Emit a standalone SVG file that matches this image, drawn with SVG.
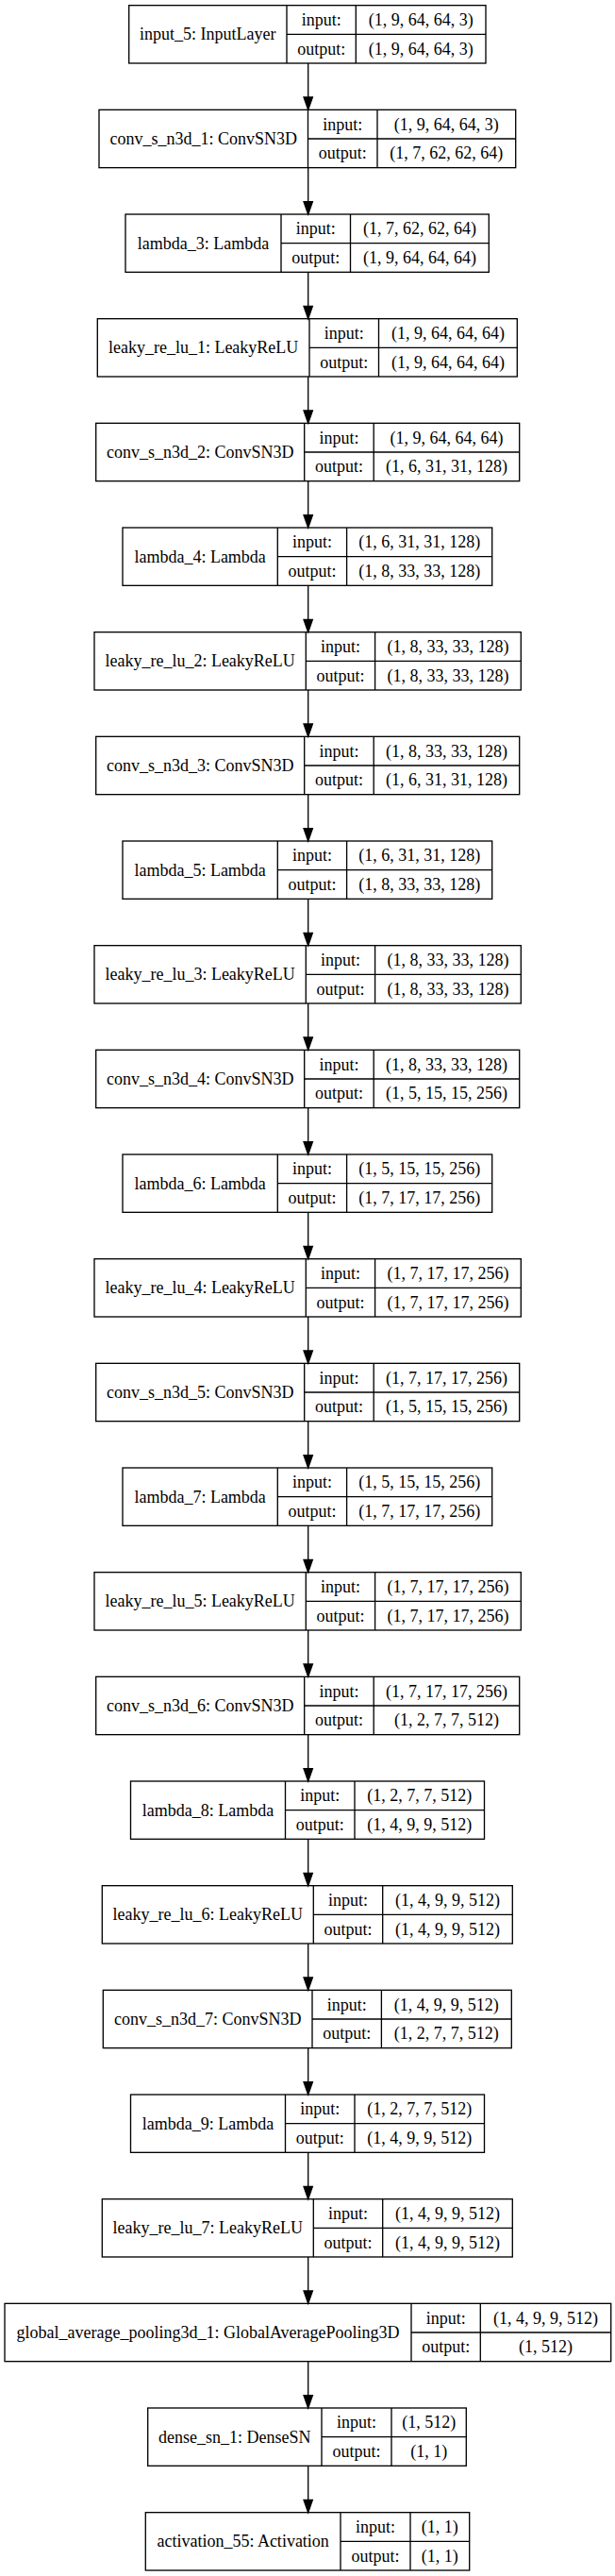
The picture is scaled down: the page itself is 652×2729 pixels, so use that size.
<svg xmlns="http://www.w3.org/2000/svg" width="652" height="2729" viewBox="0 0 652 2729">
<style>
.box{fill:none;stroke:#000;stroke-width:1.33}
text{font-family:"Liberation Serif","Times New Roman",serif;font-size:18px;text-anchor:middle;fill:#000}
.edge{stroke:#000;stroke-width:1.33;fill:none}
.ahp{fill:#000;stroke:#000;stroke-width:1.33}
</style>
<defs>
<marker id="ah" markerUnits="userSpaceOnUse" markerWidth="16" markerHeight="12" refX="0" refY="5" orient="auto" overflow="visible">
<path class="ahp" d="M0,0.33L13.33,5L0,9.67z"/>
</marker>
</defs>
<rect x="0" y="0" width="652" height="2729" fill="#fff"/>
<g id="nodes">
<g id="input_5" transform="translate(0,5.67)">
<rect class="box" x="136.7" y="0" width="378.3" height="61.33"/>
<path class="box" d="M304,0V61.33M377.3,0V61.33M304,30.67H515"/>
<text x="220.35" y="36.7">input_5: InputLayer</text>
<text x="340.65" y="21.3">input:</text><text x="340.65" y="52">output:</text>
<text x="446.15" y="21.3">(1, 9, 64, 64, 3)</text><text x="446.15" y="52">(1, 9, 64, 64, 3)</text>
</g>
<g id="conv_s_n3d_1" transform="translate(0,116.33)">
<rect class="box" x="105" y="0" width="441.7" height="61.33"/>
<path class="box" d="M326.5,0V61.33M400,0V61.33M326.5,30.67H546.7"/>
<text x="215.75" y="36.7">conv_s_n3d_1: ConvSN3D</text>
<text x="363.25" y="21.3">input:</text><text x="363.25" y="52">output:</text>
<text x="473.35" y="21.3">(1, 9, 64, 64, 3)</text><text x="473.35" y="52">(1, 7, 62, 62, 64)</text>
</g>
<g id="lambda_3" transform="translate(0,227)">
<rect class="box" x="133" y="0" width="385.3" height="61.33"/>
<path class="box" d="M298,0V61.33M371.5,0V61.33M298,30.67H518.3"/>
<text x="215.5" y="36.7">lambda_3: Lambda</text>
<text x="334.75" y="21.3">input:</text><text x="334.75" y="52">output:</text>
<text x="444.9" y="21.3">(1, 7, 62, 62, 64)</text><text x="444.9" y="52">(1, 9, 64, 64, 64)</text>
</g>
<g id="leaky_re_lu_1" transform="translate(0,337.67)">
<rect class="box" x="103.3" y="0" width="445" height="61.33"/>
<path class="box" d="M328,0V61.33M401.5,0V61.33M328,30.67H548.3"/>
<text x="215.65" y="36.7">leaky_re_lu_1: LeakyReLU</text>
<text x="364.75" y="21.3">input:</text><text x="364.75" y="52">output:</text>
<text x="474.9" y="21.3">(1, 9, 64, 64, 64)</text><text x="474.9" y="52">(1, 9, 64, 64, 64)</text>
</g>
<g id="conv_s_n3d_2" transform="translate(0,448.33)">
<rect class="box" x="101.7" y="0" width="449" height="61.33"/>
<path class="box" d="M322.7,0V61.33M396.2,0V61.33M322.7,30.67H550.7"/>
<text x="212.2" y="36.7">conv_s_n3d_2: ConvSN3D</text>
<text x="359.45" y="21.3">input:</text><text x="359.45" y="52">output:</text>
<text x="473.45" y="21.3">(1, 9, 64, 64, 64)</text><text x="473.45" y="52">(1, 6, 31, 31, 128)</text>
</g>
<g id="lambda_4" transform="translate(0,559)">
<rect class="box" x="130" y="0" width="391.7" height="61.33"/>
<path class="box" d="M294.3,0V61.33M367.6,0V61.33M294.3,30.67H521.7"/>
<text x="212.15" y="36.7">lambda_4: Lambda</text>
<text x="330.95" y="21.3">input:</text><text x="330.95" y="52">output:</text>
<text x="444.65" y="21.3">(1, 6, 31, 31, 128)</text><text x="444.65" y="52">(1, 8, 33, 33, 128)</text>
</g>
<g id="leaky_re_lu_2" transform="translate(0,669.67)">
<rect class="box" x="100" y="0" width="452.3" height="61.33"/>
<path class="box" d="M324.3,0V61.33M397.6,0V61.33M324.3,30.67H552.3"/>
<text x="212.15" y="36.7">leaky_re_lu_2: LeakyReLU</text>
<text x="360.95" y="21.3">input:</text><text x="360.95" y="52">output:</text>
<text x="474.95" y="21.3">(1, 8, 33, 33, 128)</text><text x="474.95" y="52">(1, 8, 33, 33, 128)</text>
</g>
<g id="conv_s_n3d_3" transform="translate(0,780.33)">
<rect class="box" x="101.7" y="0" width="449" height="61.33"/>
<path class="box" d="M322.7,0V61.33M396.2,0V61.33M322.7,30.67H550.7"/>
<text x="212.2" y="36.7">conv_s_n3d_3: ConvSN3D</text>
<text x="359.45" y="21.3">input:</text><text x="359.45" y="52">output:</text>
<text x="473.45" y="21.3">(1, 8, 33, 33, 128)</text><text x="473.45" y="52">(1, 6, 31, 31, 128)</text>
</g>
<g id="lambda_5" transform="translate(0,891)">
<rect class="box" x="130" y="0" width="391.7" height="61.33"/>
<path class="box" d="M294.3,0V61.33M367.6,0V61.33M294.3,30.67H521.7"/>
<text x="212.15" y="36.7">lambda_5: Lambda</text>
<text x="330.95" y="21.3">input:</text><text x="330.95" y="52">output:</text>
<text x="444.65" y="21.3">(1, 6, 31, 31, 128)</text><text x="444.65" y="52">(1, 8, 33, 33, 128)</text>
</g>
<g id="leaky_re_lu_3" transform="translate(0,1001.67)">
<rect class="box" x="100" y="0" width="452.3" height="61.33"/>
<path class="box" d="M324.3,0V61.33M397.6,0V61.33M324.3,30.67H552.3"/>
<text x="212.15" y="36.7">leaky_re_lu_3: LeakyReLU</text>
<text x="360.95" y="21.3">input:</text><text x="360.95" y="52">output:</text>
<text x="474.95" y="21.3">(1, 8, 33, 33, 128)</text><text x="474.95" y="52">(1, 8, 33, 33, 128)</text>
</g>
<g id="conv_s_n3d_4" transform="translate(0,1112.33)">
<rect class="box" x="101.7" y="0" width="449" height="61.33"/>
<path class="box" d="M322.7,0V61.33M396.2,0V61.33M322.7,30.67H550.7"/>
<text x="212.2" y="36.7">conv_s_n3d_4: ConvSN3D</text>
<text x="359.45" y="21.3">input:</text><text x="359.45" y="52">output:</text>
<text x="473.45" y="21.3">(1, 8, 33, 33, 128)</text><text x="473.45" y="52">(1, 5, 15, 15, 256)</text>
</g>
<g id="lambda_6" transform="translate(0,1223)">
<rect class="box" x="130" y="0" width="391.7" height="61.33"/>
<path class="box" d="M294.3,0V61.33M367.6,0V61.33M294.3,30.67H521.7"/>
<text x="212.15" y="36.7">lambda_6: Lambda</text>
<text x="330.95" y="21.3">input:</text><text x="330.95" y="52">output:</text>
<text x="444.65" y="21.3">(1, 5, 15, 15, 256)</text><text x="444.65" y="52">(1, 7, 17, 17, 256)</text>
</g>
<g id="leaky_re_lu_4" transform="translate(0,1333.67)">
<rect class="box" x="100" y="0" width="452.3" height="61.33"/>
<path class="box" d="M324.3,0V61.33M397.6,0V61.33M324.3,30.67H552.3"/>
<text x="212.15" y="36.7">leaky_re_lu_4: LeakyReLU</text>
<text x="360.95" y="21.3">input:</text><text x="360.95" y="52">output:</text>
<text x="474.95" y="21.3">(1, 7, 17, 17, 256)</text><text x="474.95" y="52">(1, 7, 17, 17, 256)</text>
</g>
<g id="conv_s_n3d_5" transform="translate(0,1444.33)">
<rect class="box" x="101.7" y="0" width="449" height="61.33"/>
<path class="box" d="M322.7,0V61.33M396.2,0V61.33M322.7,30.67H550.7"/>
<text x="212.2" y="36.7">conv_s_n3d_5: ConvSN3D</text>
<text x="359.45" y="21.3">input:</text><text x="359.45" y="52">output:</text>
<text x="473.45" y="21.3">(1, 7, 17, 17, 256)</text><text x="473.45" y="52">(1, 5, 15, 15, 256)</text>
</g>
<g id="lambda_7" transform="translate(0,1555)">
<rect class="box" x="130" y="0" width="391.7" height="61.33"/>
<path class="box" d="M294.3,0V61.33M367.6,0V61.33M294.3,30.67H521.7"/>
<text x="212.15" y="36.7">lambda_7: Lambda</text>
<text x="330.95" y="21.3">input:</text><text x="330.95" y="52">output:</text>
<text x="444.65" y="21.3">(1, 5, 15, 15, 256)</text><text x="444.65" y="52">(1, 7, 17, 17, 256)</text>
</g>
<g id="leaky_re_lu_5" transform="translate(0,1665.67)">
<rect class="box" x="100" y="0" width="452.3" height="61.33"/>
<path class="box" d="M324.3,0V61.33M397.6,0V61.33M324.3,30.67H552.3"/>
<text x="212.15" y="36.7">leaky_re_lu_5: LeakyReLU</text>
<text x="360.95" y="21.3">input:</text><text x="360.95" y="52">output:</text>
<text x="474.95" y="21.3">(1, 7, 17, 17, 256)</text><text x="474.95" y="52">(1, 7, 17, 17, 256)</text>
</g>
<g id="conv_s_n3d_6" transform="translate(0,1776.33)">
<rect class="box" x="101.7" y="0" width="449" height="61.33"/>
<path class="box" d="M322.7,0V61.33M396.2,0V61.33M322.7,30.67H550.7"/>
<text x="212.2" y="36.7">conv_s_n3d_6: ConvSN3D</text>
<text x="359.45" y="21.3">input:</text><text x="359.45" y="52">output:</text>
<text x="473.45" y="21.3">(1, 7, 17, 17, 256)</text><text x="473.45" y="52">(1, 2, 7, 7, 512)</text>
</g>
<g id="lambda_8" transform="translate(0,1887)">
<rect class="box" x="138.5" y="0" width="375" height="61.33"/>
<path class="box" d="M302.5,0V61.33M376,0V61.33M302.5,30.67H513.5"/>
<text x="220.5" y="36.7">lambda_8: Lambda</text>
<text x="339.25" y="21.3">input:</text><text x="339.25" y="52">output:</text>
<text x="444.75" y="21.3">(1, 2, 7, 7, 512)</text><text x="444.75" y="52">(1, 4, 9, 9, 512)</text>
</g>
<g id="leaky_re_lu_6" transform="translate(0,1997.67)">
<rect class="box" x="108.3" y="0" width="435" height="61.33"/>
<path class="box" d="M332.3,0V61.33M405.7,0V61.33M332.3,30.67H543.3"/>
<text x="220.3" y="36.7">leaky_re_lu_6: LeakyReLU</text>
<text x="369" y="21.3">input:</text><text x="369" y="52">output:</text>
<text x="474.5" y="21.3">(1, 4, 9, 9, 512)</text><text x="474.5" y="52">(1, 4, 9, 9, 512)</text>
</g>
<g id="conv_s_n3d_7" transform="translate(0,2108.33)">
<rect class="box" x="109.3" y="0" width="433" height="61.33"/>
<path class="box" d="M331,0V61.33M404.4,0V61.33M331,30.67H542.3"/>
<text x="220.15" y="36.7">conv_s_n3d_7: ConvSN3D</text>
<text x="367.7" y="21.3">input:</text><text x="367.7" y="52">output:</text>
<text x="473.35" y="21.3">(1, 4, 9, 9, 512)</text><text x="473.35" y="52">(1, 2, 7, 7, 512)</text>
</g>
<g id="lambda_9" transform="translate(0,2219)">
<rect class="box" x="138.5" y="0" width="375" height="61.33"/>
<path class="box" d="M302.5,0V61.33M376,0V61.33M302.5,30.67H513.5"/>
<text x="220.5" y="36.7">lambda_9: Lambda</text>
<text x="339.25" y="21.3">input:</text><text x="339.25" y="52">output:</text>
<text x="444.75" y="21.3">(1, 2, 7, 7, 512)</text><text x="444.75" y="52">(1, 4, 9, 9, 512)</text>
</g>
<g id="leaky_re_lu_7" transform="translate(0,2329.67)">
<rect class="box" x="108.3" y="0" width="435" height="61.33"/>
<path class="box" d="M332.3,0V61.33M405.7,0V61.33M332.3,30.67H543.3"/>
<text x="220.3" y="36.7">leaky_re_lu_7: LeakyReLU</text>
<text x="369" y="21.3">input:</text><text x="369" y="52">output:</text>
<text x="474.5" y="21.3">(1, 4, 9, 9, 512)</text><text x="474.5" y="52">(1, 4, 9, 9, 512)</text>
</g>
<g id="global_average_pooling3d_1" transform="translate(0,2440.33)">
<rect class="box" x="5" y="0" width="642.7" height="61.33"/>
<path class="box" d="M436,0V61.33M509.3,0V61.33M436,30.67H647.7"/>
<text x="220.5" y="36.7">global_average_pooling3d_1: GlobalAveragePooling3D</text>
<text x="472.65" y="21.3">input:</text><text x="472.65" y="52">output:</text>
<text x="578.5" y="21.3">(1, 4, 9, 9, 512)</text><text x="578.5" y="52">(1, 512)</text>
</g>
<g id="dense_sn_1" transform="translate(0,2551)">
<rect class="box" x="156.7" y="0" width="337.6" height="61.33"/>
<path class="box" d="M341,0V61.33M415,0V61.33M341,30.67H494.3"/>
<text x="248.85" y="36.7">dense_sn_1: DenseSN</text>
<text x="378" y="21.3">input:</text><text x="378" y="52">output:</text>
<text x="454.65" y="21.3">(1, 512)</text><text x="454.65" y="52">(1, 1)</text>
</g>
<g id="activation_55" transform="translate(0,2661.67)">
<rect class="box" x="154.3" y="0" width="343.4" height="61.33"/>
<path class="box" d="M361,0V61.33M435,0V61.33M361,30.67H497.7"/>
<text x="257.65" y="36.7">activation_55: Activation</text>
<text x="398" y="21.3">input:</text><text x="398" y="52">output:</text>
<text x="466.35" y="21.3">(1, 1)</text><text x="466.35" y="52">(1, 1)</text>
</g>
</g>
<g id="connectors" marker-end="url(#ah)">
<path class="edge" marker-end="url(#ah)" d="M326.7,67V103"/>
<path class="edge" marker-end="url(#ah)" d="M326.7,177.67V213.67"/>
<path class="edge" marker-end="url(#ah)" d="M326.7,288.33V324.33"/>
<path class="edge" marker-end="url(#ah)" d="M326.7,399V435"/>
<path class="edge" marker-end="url(#ah)" d="M326.7,509.67V545.67"/>
<path class="edge" marker-end="url(#ah)" d="M326.7,620.33V656.33"/>
<path class="edge" marker-end="url(#ah)" d="M326.7,731V767"/>
<path class="edge" marker-end="url(#ah)" d="M326.7,841.67V877.67"/>
<path class="edge" marker-end="url(#ah)" d="M326.7,952.33V988.33"/>
<path class="edge" marker-end="url(#ah)" d="M326.7,1063V1099"/>
<path class="edge" marker-end="url(#ah)" d="M326.7,1173.67V1209.67"/>
<path class="edge" marker-end="url(#ah)" d="M326.7,1284.33V1320.33"/>
<path class="edge" marker-end="url(#ah)" d="M326.7,1395V1431"/>
<path class="edge" marker-end="url(#ah)" d="M326.7,1505.67V1541.67"/>
<path class="edge" marker-end="url(#ah)" d="M326.7,1616.33V1652.33"/>
<path class="edge" marker-end="url(#ah)" d="M326.7,1727V1763"/>
<path class="edge" marker-end="url(#ah)" d="M326.7,1837.67V1873.67"/>
<path class="edge" marker-end="url(#ah)" d="M326.7,1948.33V1984.33"/>
<path class="edge" marker-end="url(#ah)" d="M326.7,2059V2095"/>
<path class="edge" marker-end="url(#ah)" d="M326.7,2169.67V2205.67"/>
<path class="edge" marker-end="url(#ah)" d="M326.7,2280.33V2316.33"/>
<path class="edge" marker-end="url(#ah)" d="M326.7,2391V2427"/>
<path class="edge" marker-end="url(#ah)" d="M326.7,2501.67V2537.67"/>
<path class="edge" marker-end="url(#ah)" d="M326.7,2612.33V2648.33"/>
</g>
</svg>
